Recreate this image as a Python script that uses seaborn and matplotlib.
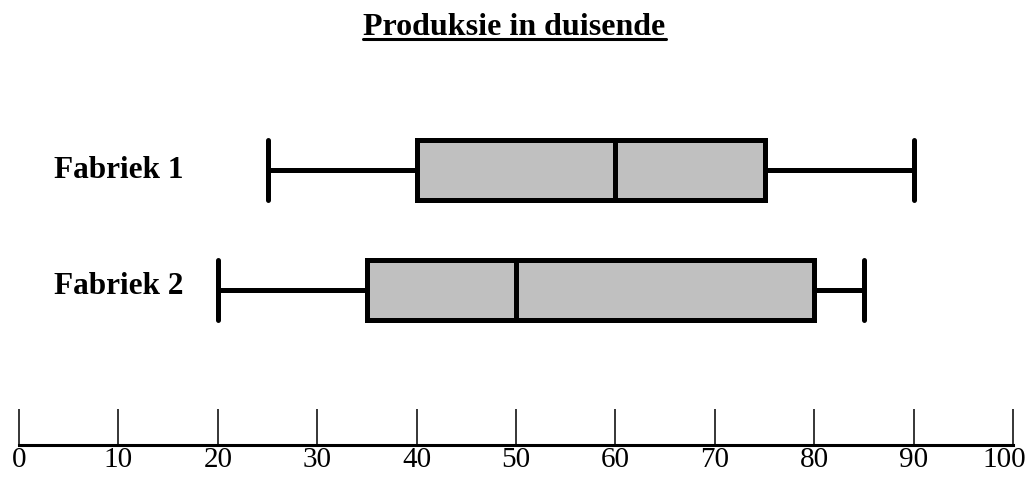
import matplotlib
matplotlib.use("Agg")
import matplotlib.pyplot as plt
import matplotlib.transforms as mtransforms
import seaborn as sns
import pandas as pd
from matplotlib.lines import Line2D

# Five-number summaries (min, Q1, median, Q3, max)
factories = ["Fabriek 1", "Fabriek 2"]
fabriek_1 = [25, 40, 60, 75, 90]
fabriek_2 = [20, 35, 50, 80, 85]
x_ticks = list(range(0, 101, 10))

df = pd.DataFrame({
    "Fabriek": [factories[0]] * len(fabriek_1) + [factories[1]] * len(fabriek_2),
    "Produksie": fabriek_1 + fabriek_2,
})

sns.set_style("white")
plt.rcParams["font.family"] = ["Liberation Serif", "DejaVu Serif"]

fig = plt.figure(figsize=(10.29, 4.81), dpi=100)
ax = fig.add_axes([19 / 1029, 35 / 481, 994 / 1029, 395 / 481])

lw = 3.6
sns.boxplot(
    data=df, x="Produksie", y="Fabriek", order=factories, orient="h",
    whis=(0, 100), width=0.5, color="#c0c0c0", saturation=1,
    linecolor="black", linewidth=lw, showfliers=False,
    boxprops=dict(facecolor="#c0c0c0", edgecolor="black", linewidth=lw),
    whiskerprops=dict(color="black", linewidth=lw),
    capprops=dict(color="black", linewidth=lw),
    medianprops=dict(color="black", linewidth=lw),
    capwidths=0.5,
    ax=ax,
)

ax.set_xlim(0, 100)
ax.set_ylim(2.2917, -1.0)
ax.set_xticks(x_ticks)
ax.set_xticklabels([str(t) for t in x_ticks], fontsize=21)
ax.tick_params(axis="x", direction="in", length=26, width=1.1, pad=1,
               colors="black", bottom=True)
# the last label is pulled in so it stays inside the figure
last = ax.get_xticklabels()[-1]
last.set_transform(last.get_transform() +
                   mtransforms.ScaledTranslation(-0.09, 0, fig.dpi_scale_trans))
ax.set_yticks([])
ax.set_xlabel("")
ax.set_ylabel("")
for side in ["top", "left", "right"]:
    ax.spines[side].set_visible(False)
ax.spines["bottom"].set_linewidth(2.2)
ax.spines["bottom"].set_color("black")

# category labels sit inside the plot area, left of the whiskers
for i, name in enumerate(factories):
    ax.text(16.5, i - 0.04 * i, name, ha="right", va="center", fontsize=22.5,
            fontweight="bold", color="black")

title = fig.text(0.5, 1 - 35 / 481, "Produksie in duisende", ha="center",
                 va="baseline", fontsize=23, fontweight="bold", color="black")

# underline the title
fig.canvas.draw()
bb = title.get_window_extent(fig.canvas.get_renderer())
y_line = 1 - 40 / 481
fig.add_artist(Line2D([bb.x0 / fig.bbox.width, bb.x1 / fig.bbox.width],
                      [y_line, y_line], transform=fig.transFigure,
                      color="black", linewidth=2.2))

fig.savefig("out.png", dpi=100)
